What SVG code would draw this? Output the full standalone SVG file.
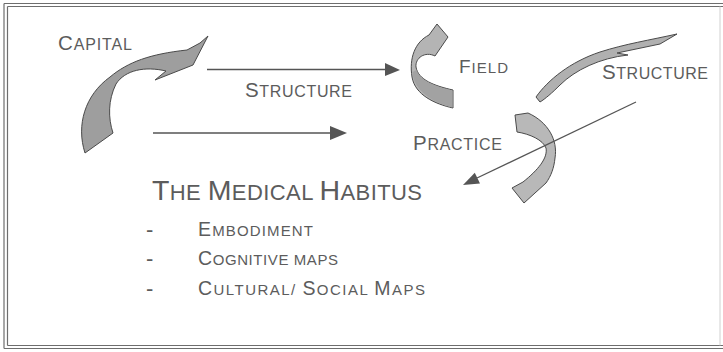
<svg xmlns="http://www.w3.org/2000/svg" width="723" height="352" viewBox="0 0 723 352">
  <style>
    .frame { stroke: #6e6e6e; stroke-width: 1.2; fill: none; }
    .lbl { font-family: "Liberation Sans", Arial, sans-serif; fill: #5c5c5c; }
    .ribbon { stroke: #4a4a4a; stroke-width: 1; stroke-linejoin: round; }
    .conn { stroke: #555; stroke-width: 1.3; fill: none; }
    .head { fill: #555; stroke: none; }
  </style>

  <rect width="723" height="352" fill="#fff"/>

  <!-- page frame: double rule on top, left and bottom -->
  <g id="frame">
    <line class="frame" x1="4" y1="3.5" x2="723" y2="3.5"/>
    <line class="frame" x1="7.5" y1="6.5" x2="723" y2="6.5"/>
    <line class="frame" x1="4" y1="3.5" x2="4" y2="348.5"/>
    <line class="frame" x1="7.5" y1="6.5" x2="7.5" y2="345.5"/>
    <line class="frame" x1="4" y1="348.5" x2="723" y2="348.5"/>
    <line class="frame" x1="7.5" y1="345.5" x2="723" y2="345.5"/>
    <line x1="720" y1="6.5" x2="720" y2="345.5" stroke="#d0d0d0" stroke-width="1"/>
  </g>

  <!-- curved ribbon arrows -->
  <g id="capital-arrow">
    <path class="ribbon" fill="#9e9e9e" d="M85,153 C76,125 85,95 110,77 C128,62 150,54 187,50 L200,43 L208,36 L193,65 L155,80 L166,71 C145,66 125,70 116,84 C108,100 108,118 113,133 Z"/>
  </g>
  <g id="field-arrow">
    <path class="ribbon" fill="#b4b4b4" d="M453,90 C435,86 418,80 416,67 C415,58 425,51 435,56 L448,37 L437,24 L429,35 C415,42 409,58 412,77 C415,95 435,104 453,108 Z"/>
    <!-- darker underside of the twisted lower half -->
    <path fill="#a2a2a2" stroke="none" d="M452.5,90.5 C435,86.5 419,80 416.5,70 L412.5,72 C413,90 433,103 452.5,107.5 Z"/>
  </g>
  <g id="structure-arrow">
    <path class="ribbon" fill="#b0b0b0" d="M677,34 L660,44 L617,53 L628,55 C600,58 575,70 560,85 C552,93 545,99 540,102 L536,97 C548,80 570,62 600,52 C625,44 650,40 677,34 Z"/>
  </g>
  <g id="practice-arrow">
    <path class="ribbon" fill="#b8b8b8" d="M515,115 L528,113 C548,122 558,140 555,158 C554,168 551,176 546,183 L524,203 L512,188 L523,182 C538,170 548,158 546,148 C543,140 530,134 517,132 Z"/>
  </g>

  <!-- straight connectors -->
  <g id="connectors">
    <line class="conn" x1="207" y1="69.5" x2="387" y2="69.5"/>
    <polygon class="head" points="385,63 400,70 385,76"/>
    <line class="conn" x1="153" y1="133" x2="332" y2="133"/>
    <polygon class="head" points="330,126 347,133 330,140"/>
    <line class="conn" x1="636" y1="102" x2="477" y2="178"/>
    <polygon class="head" points="463,185 480,183.5 474.8,172.7"/>
  </g>

  <!-- labels (small caps) -->
  <g id="capital">
    <text class="lbl" x="58" y="50" textLength="74" lengthAdjust="spacing"><tspan font-size="20.5">C</tspan><tspan font-size="16">APITAL</tspan></text>
  </g>
  <g id="structure-left">
    <text class="lbl" x="245" y="97" textLength="107" lengthAdjust="spacing"><tspan font-size="20.5">S</tspan><tspan font-size="16">TRUCTURE</tspan></text>
  </g>
  <g id="field">
    <text class="lbl" x="459" y="73" textLength="49" lengthAdjust="spacing"><tspan font-size="19">F</tspan><tspan font-size="15">IELD</tspan></text>
  </g>
  <g id="structure-right">
    <text class="lbl" x="602" y="79" textLength="106" lengthAdjust="spacing"><tspan font-size="20.5">S</tspan><tspan font-size="16">TRUCTURE</tspan></text>
  </g>
  <g id="practice">
    <text class="lbl" x="413" y="150" textLength="89" lengthAdjust="spacing"><tspan font-size="20.5">P</tspan><tspan font-size="16">RACTICE</tspan></text>
  </g>

  <g id="habitus">
    <text class="lbl" x="152" y="200" textLength="270" lengthAdjust="spacing"><tspan font-size="28.5">T</tspan><tspan font-size="22">HE </tspan><tspan font-size="28.5">M</tspan><tspan font-size="22">EDICAL </tspan><tspan font-size="28.5">H</tspan><tspan font-size="22">ABITUS</tspan></text>
    <g class="lbl" font-size="22">
      <text x="146" y="237">-</text>
      <text x="146" y="266">-</text>
      <text x="146" y="296">-</text>
    </g>
    <text class="lbl" x="198" y="236" textLength="115" lengthAdjust="spacing"><tspan font-size="19.5">E</tspan><tspan font-size="15">MBODIMENT</tspan></text>
    <text class="lbl" x="198" y="265" textLength="140" lengthAdjust="spacing"><tspan font-size="19.5">C</tspan><tspan font-size="15">OGNITIVE MAPS</tspan></text>
    <text class="lbl" x="198" y="295" textLength="227" lengthAdjust="spacing"><tspan font-size="19.5">C</tspan><tspan font-size="15">ULTURAL/ </tspan><tspan font-size="19.5">S</tspan><tspan font-size="15">OCIAL </tspan><tspan font-size="19.5">M</tspan><tspan font-size="15">APS</tspan></text>
  </g>
</svg>
